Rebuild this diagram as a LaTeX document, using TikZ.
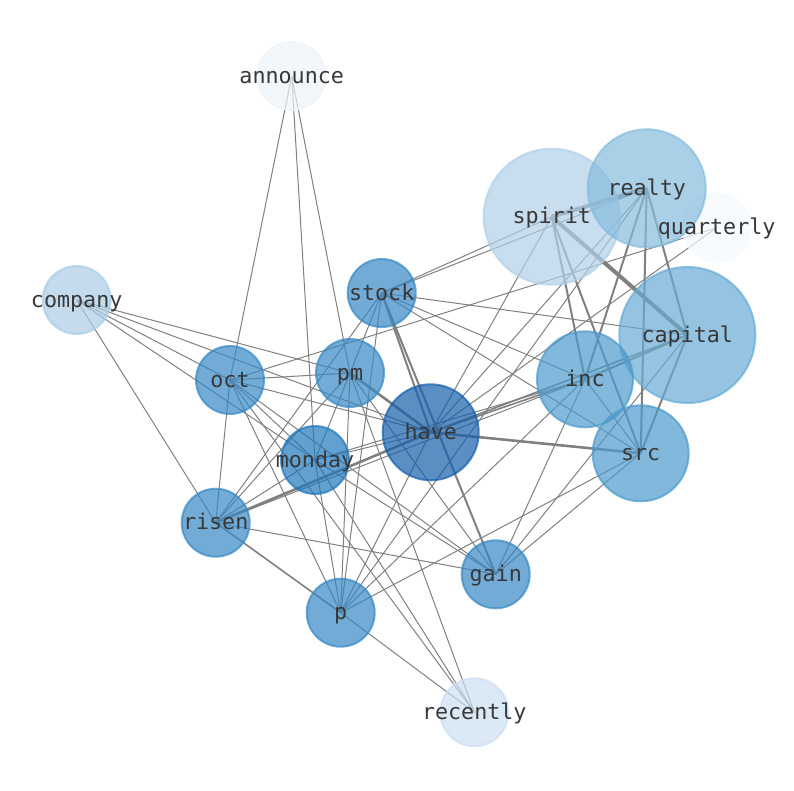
\documentclass[tikz,border=0pt]{standalone}
\usepackage{fontspec}
\setmonofont{DejaVu Sans Mono}
\definecolor{deg2}{HTML}{F5F9FE}
\definecolor{deg3}{HTML}{EDF3FA}
\definecolor{deg4}{HTML}{CCDEF1}
\definecolor{deg5}{HTML}{A9CCE5}
\definecolor{deg6}{HTML}{B0D0E8}
\definecolor{deg7}{HTML}{86BCDD}
\definecolor{deg8}{HTML}{66ABD4}
\definecolor{deg9}{HTML}{4C9ACC}
\definecolor{deg11}{HTML}{3688C4}
\definecolor{deg13}{HTML}{1F77BC}
\definecolor{deg15}{HTML}{155FAB}
\pgfdeclarelayer{edges}
\pgfsetlayers{edges,main}

\begin{document}
\begin{tikzpicture}[x=1pt, y=-1pt,
    word/.style={shape=circle, inner sep=0pt, line width=2pt, fill opacity=0.7, draw opacity=0.7},
    lbl/.style={inner sep=0pt, text height=14pt, text depth=0pt, text=black!78,
                font=\ttfamily\fontsize{21.7}{24}\selectfont},
    link/.style={draw=black!50, line width=1pt}]
    \useasboundingbox (0,0) rectangle (794,790);

    \node at (291.7, 76.0) (announce) [word, minimum size=68pt, fill=deg3, draw=deg3] {};
    \node at (716.7,227.7) (quarterly) [word, minimum size=68pt, fill=deg2, draw=deg2] {};
    \node at (551.7,216.7) (spirit) [word, minimum size=136pt, fill=deg6, draw=deg6] {};
    \node at (646.7,188.3) (realty) [word, minimum size=118pt, fill=deg7, draw=deg7] {};
    \node at ( 76.7,300.0) (company) [word, minimum size=68pt, fill=deg5, draw=deg5] {};
    \node at (381.7,293.0) (stock) [word, minimum size=68pt, fill=deg11, draw=deg11] {};
    \node at (687.3,335.0) (capital) [word, minimum size=136pt, fill=deg8, draw=deg8] {};
    \node at (230.0,380.0) (oct) [word, minimum size=68pt, fill=deg11, draw=deg11] {};
    \node at (350.0,373.0) (pm) [word, minimum size=68pt, fill=deg11, draw=deg11] {};
    \node at (585.0,379.3) (inc) [word, minimum size=96pt, fill=deg9, draw=deg9] {};
    \node at (430.7,432.3) (have) [word, minimum size=96pt, fill=deg15, draw=deg15] {};
    \node at (640.7,453.3) (src) [word, minimum size=96pt, fill=deg9, draw=deg9] {};
    \node at (315.0,460.0) (monday) [word, minimum size=68pt, fill=deg13, draw=deg13] {};
    \node at (215.7,522.7) (risen) [word, minimum size=68pt, fill=deg11, draw=deg11] {};
    \node at (495.7,574.3) (gain) [word, minimum size=68pt, fill=deg11, draw=deg11] {};
    \node at (340.7,612.7) (p) [word, minimum size=68pt, fill=deg11, draw=deg11] {};
    \node at (474.3,712.3) (recently) [word, minimum size=68pt, fill=deg4, draw=deg4] {};

    \begin{pgfonlayer}{edges}
    % thin links
    \draw[link] (announce.center) -- (oct.center);
    \draw[link] (announce.center) -- (monday.center);
    \draw[link] (announce.center) -- (pm.center);
    \draw[link] (quarterly.center) -- (oct.center);
    \draw[link] (quarterly.center) -- (have.center);
    \draw[link] (company.center) -- (pm.center);
    \draw[link] (company.center) -- (have.center);
    \draw[link] (company.center) -- (oct.center);
    \draw[link] (company.center) -- (monday.center);
    \draw[link] (company.center) -- (risen.center);
    \draw[link] (spirit.center) -- (stock.center);
    \draw[link] (spirit.center) -- (have.center);
    \draw[link] (realty.center) -- (stock.center);
    \draw[link] (realty.center) -- (have.center);
    \draw[link] (realty.center) -- (p.center);
    \draw[link] (recently.center) -- (p.center);
    \draw[link] (recently.center) -- (oct.center);
    \draw[link] (recently.center) -- (monday.center);
    \draw[link] (recently.center) -- (pm.center);
    \draw[link] (stock.center) -- (capital.center);
    \draw[link] (stock.center) -- (inc.center);
    \draw[link] (stock.center) -- (src.center);
    \draw[link] (stock.center) -- (pm.center);
    \draw[link] (stock.center) -- (risen.center);
    \draw[link] (stock.center) -- (p.center);
    \draw[link] (oct.center) -- (pm.center);
    \draw[link] (oct.center) -- (have.center);
    \draw[link] (oct.center) -- (risen.center);
    \draw[link] (oct.center) -- (p.center);
    \draw[link] (oct.center) -- (monday.center);
    \draw[link] (oct.center) -- (gain.center);
    \draw[link] (pm.center) -- (monday.center);
    \draw[link] (pm.center) -- (p.center);
    \draw[link] (pm.center) -- (gain.center);
    \draw[link] (pm.center) -- (risen.center);
    \draw[link] (monday.center) -- (have.center);
    \draw[link] (monday.center) -- (risen.center);
    \draw[link] (monday.center) -- (p.center);
    \draw[link] (monday.center) -- (gain.center);
    \draw[link] (monday.center) -- (inc.center);
    \draw[link] (have.center) -- (p.center);
    \draw[link] (risen.center) -- (gain.center);
    \draw[link] (risen.center) -- (inc.center);
    \draw[link] (inc.center) -- (src.center);
    \draw[link] (inc.center) -- (p.center);
    \draw[link] (inc.center) -- (gain.center);
    \draw[link] (capital.center) -- (gain.center);
    \draw[link] (src.center) -- (gain.center);
    \draw[link] (src.center) -- (p.center);
    % heavier links
    \draw[link, line width=2pt] (spirit.center) -- (inc.center);
    \draw[link, line width=2pt] (spirit.center) -- (src.center);
    \draw[link, line width=2pt] (realty.center) -- (inc.center);
    \draw[link, line width=2pt] (realty.center) -- (capital.center);
    \draw[link, line width=2pt] (realty.center) -- (src.center);
    \draw[link, line width=2pt] (capital.center) -- (src.center);
    \draw[link, line width=2pt] (inc.center) -- (capital.center);
    \draw[link, line width=2pt] (stock.center) -- (have.center);
    \draw[link, line width=2pt] (stock.center) -- (gain.center);
    \draw[link, line width=1.6pt] (risen.center) -- (p.center);
    \draw[link, line width=1.6pt] (have.center) -- (inc.center);
    \draw[link, line width=1.6pt] (have.center) -- (capital.center);
    \draw[link, line width=2.6pt] (pm.center) -- (have.center);
    \draw[link, line width=2.6pt] (risen.center) -- (have.center);
    \draw[link, line width=2.6pt] (have.center) -- (src.center);
    \draw[link, line width=4pt] (spirit.center) -- (capital.center);
    \draw[link, line width=4pt] (spirit.center) -- (realty.center);
    \end{pgfonlayer}

    \node at (announce) (announce-l) [lbl] {announce};
    \node at (quarterly) (quarterly-l) [lbl] {quarterly};
    \node at (spirit) (spirit-l) [lbl] {spirit};
    \node at (realty) (realty-l) [lbl] {realty};
    \node at (company) (company-l) [lbl] {company};
    \node at (stock) (stock-l) [lbl] {stock};
    \node at (capital) (capital-l) [lbl] {capital};
    \node at (oct) (oct-l) [lbl] {oct};
    \node at (pm) (pm-l) [lbl] {pm};
    \node at (inc) (inc-l) [lbl] {inc};
    \node at (have) (have-l) [lbl] {have};
    \node at (src) (src-l) [lbl] {src};
    \node at (monday) (monday-l) [lbl] {monday};
    \node at (risen) (risen-l) [lbl] {risen};
    \node at (gain) (gain-l) [lbl] {gain};
    \node at (p) (p-l) [lbl] {p};
    \node at (recently) (recently-l) [lbl] {recently};
\end{tikzpicture}
\end{document}
